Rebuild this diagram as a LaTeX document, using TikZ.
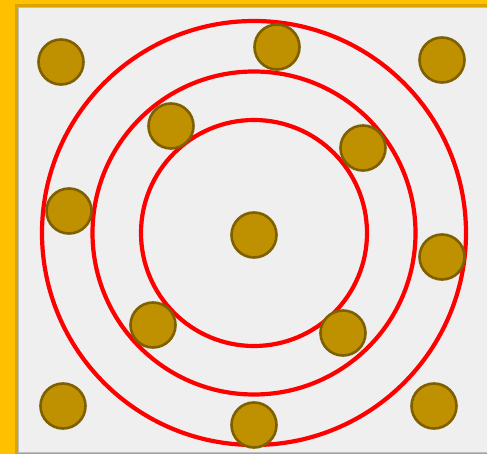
\documentclass[tikz,border=0pt]{standalone}
\usepackage{xcolor}
\usetikzlibrary{positioning}

\definecolor{goldbg}{HTML}{FFC000}
\definecolor{goldshade}{HTML}{D9A300}
\definecolor{panelgray}{HTML}{EFEFEF}
\definecolor{dotfill}{HTML}{BF9000}
\definecolor{dotedge}{HTML}{7F6000}

\begin{document}
\begin{tikzpicture}[
  x=1pt, y=-1pt,
  ring/.style={draw=red, line width=4.2pt, circle, inner sep=0pt, fill=none},
  dot/.style={circle, draw=dotedge, line width=2.6pt, fill=dotfill,
    inner sep=0pt, minimum size=45pt},
]

% ===== Background and panel =====
\useasboundingbox (0,0) rectangle (487,454);
\fill[goldbg] (0,0) rectangle (487,454);
\fill[goldshade] (15,4) rectangle (487,454);
\fill[panelgray, draw=black!25, line width=0.6pt] (18,7) rectangle (489,452);

% ===== Rings =====
\coordinate (c) at (254,233);
\node[ring, minimum size=226pt] (ring1) at (c) {};
\node[ring, minimum size=323pt] (ring2) at (c) {};
\node[ring, minimum size=424pt] (ring3) at (c) {};

% ===== Dots =====
\node[dot] (d0)  at (254,235) {};
\node[dot] (d1)  at (171,126) {};
\node[dot] (d2)  at (363,148) {};
\node[dot] (d3)  at (153,325) {};
\node[dot] (d4)  at (343,333) {};
\node[dot] (d5)  at (69,211)  {};
\node[dot] (d6)  at (277,47)  {};
\node[dot] (d7)  at (442,257) {};
\node[dot] (d8)  at (254,425) {};
\node[dot] (d9)  at (61,62)   {};
\node[dot] (d10) at (442,60)  {};
\node[dot] (d11) at (63,406)  {};
\node[dot] (d12) at (434,406) {};

\end{tikzpicture}
\end{document}
